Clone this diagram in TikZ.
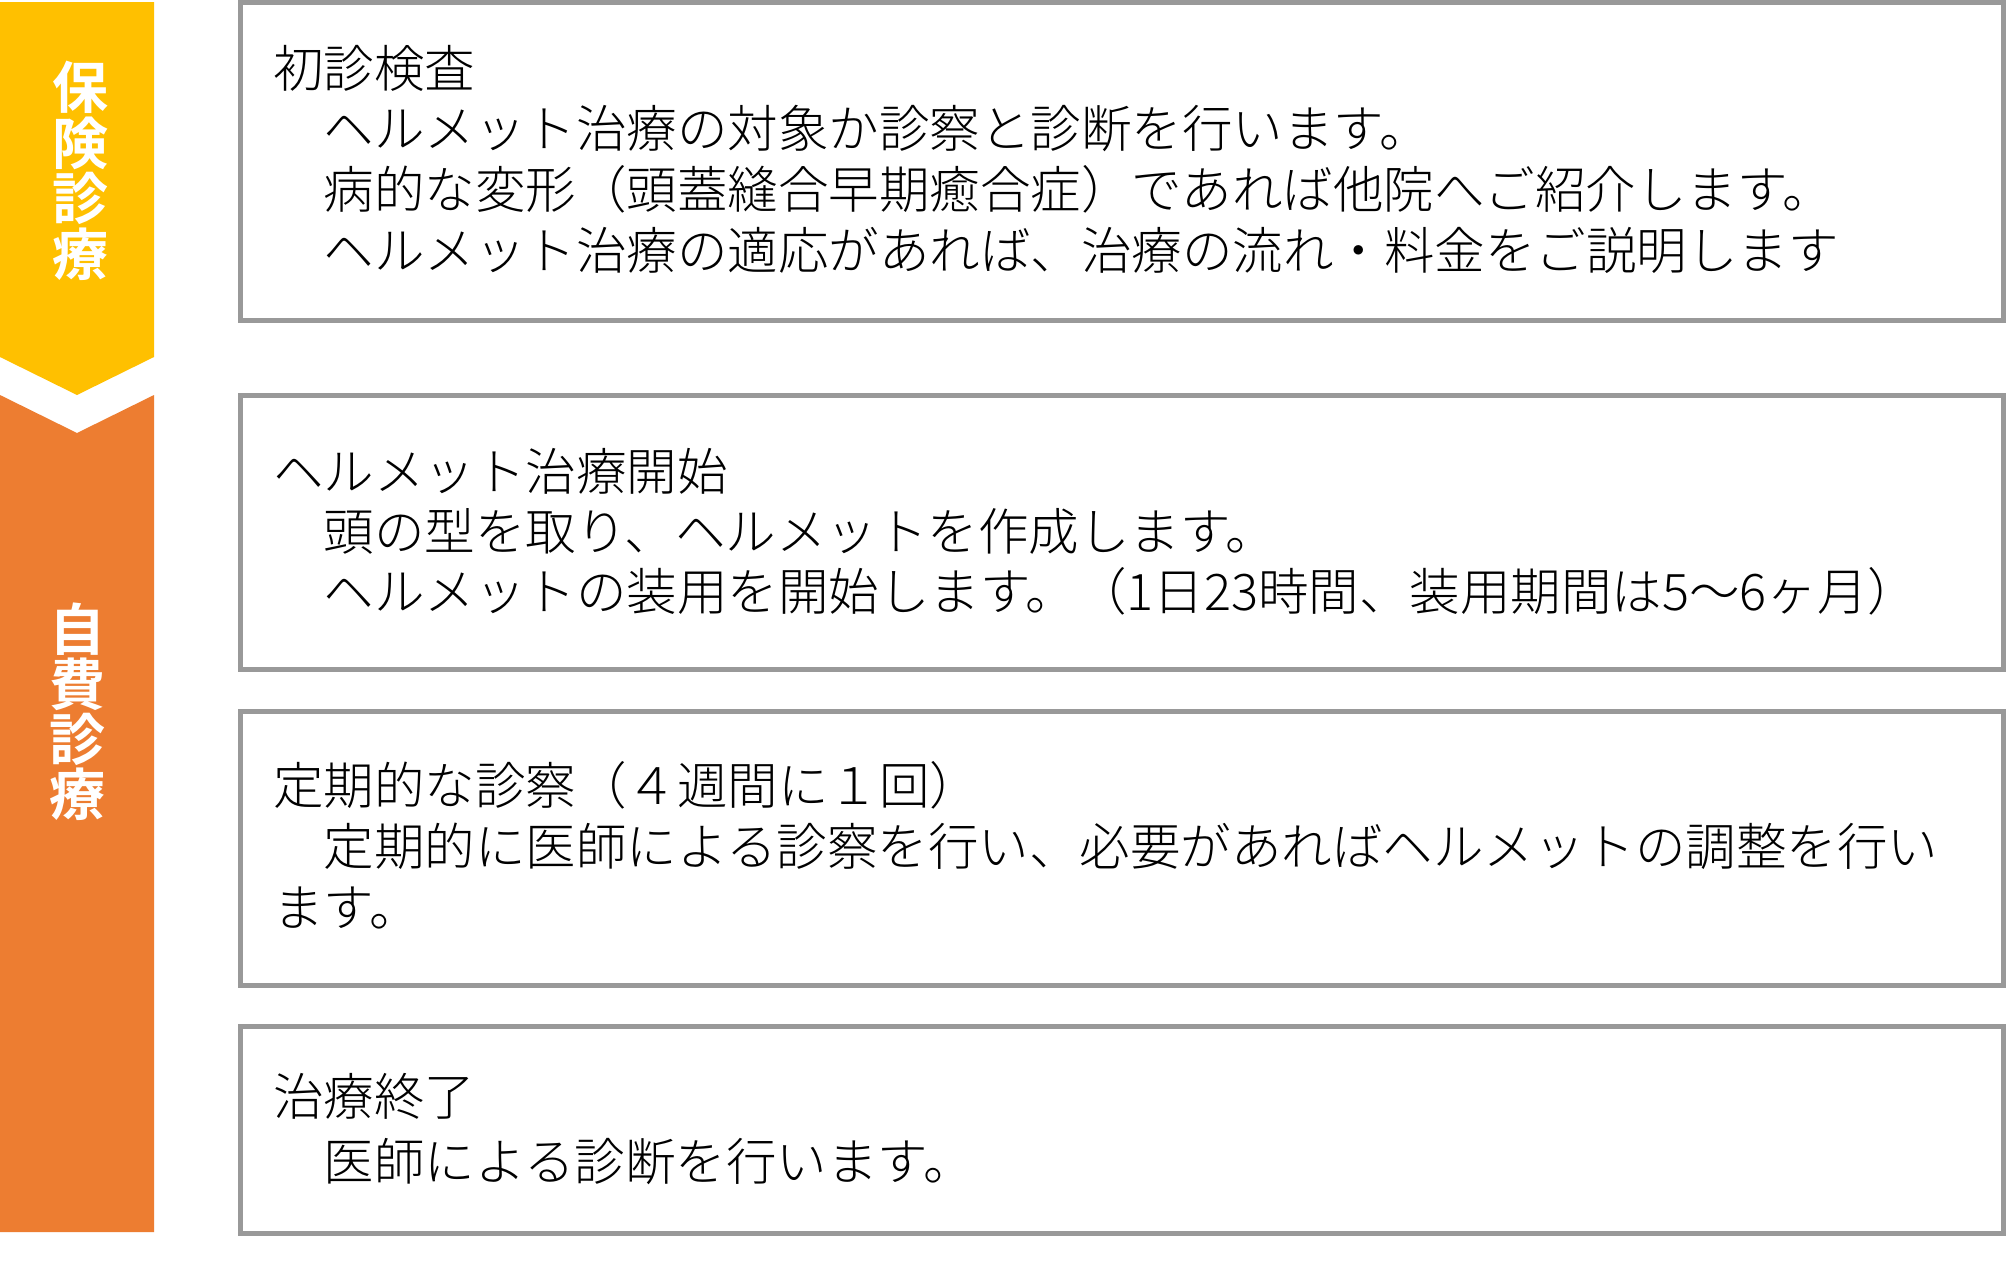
\documentclass[tikz,border=0pt]{standalone}
\usepackage{fontspec}
\newfontfamily\jp{Noto Sans CJK JP Light}
\newfontfamily\jpb{Noto Sans CJK JP Bold}
\definecolor{yel}{RGB}{255,192,0}
\definecolor{ora}{RGB}{237,125,49}
\definecolor{boxgray}{RGB}{153,153,153}
\tikzset{
  stepbox/.style={draw=boxgray, line width=5pt, fill=white, inner sep=0pt, outer sep=0pt, anchor=north west, minimum width=1763pt},
  ln/.style={anchor=base west, inner sep=0pt, text=black, font=\jp\fontsize{50.5}{60}\selectfont},
  bantext/.style={inner sep=0pt, text=white, align=center},
}
\begin{document}
\begin{tikzpicture}[x=1pt,y=-1pt]
\useasboundingbox (0,0) rectangle (2006,1286);
\fill[white] (0,0) rectangle (2006,1286);
% banners
\fill[yel] (0,2) -- (154,2) -- (154,357) -- (77,395) -- (0,357) -- cycle;
\fill[ora] (0,395) -- (77,433) -- (154,395) -- (154,1232) -- (0,1232) -- cycle;
\node[bantext, font=\jpb\fontsize{56}{55.5}\selectfont] (hoken) at (80,171) {保\\険\\診\\療};
\node[bantext, font=\jpb\fontsize{56}{55}\selectfont] (jihi) at (77,712) {自\\費\\診\\療};
% boxes
\node[stepbox, minimum height=317.5pt] (box1) at (240.5,2.5) {};
\node[stepbox, minimum height=273.5pt] (box2) at (240.5,395.5) {};
\node[stepbox, minimum height=274pt] (box3) at (240.5,711.5) {};
\node[stepbox, minimum height=207pt] (box4) at (240.5,1026.5) {};
% box 1 text
\node[ln] (t1a) at (273,87) {初診検査};
\node[ln] (t1b) at (273,147) {　ヘルメット治療の対象か診察と診断を行います。};
\node[ln] (t1c) at (273,208.5) {　病的な変形（頭蓋縫合早期癒合症）であれば他院へご紹介します。};
\node[ln] (t1d) at (273,269.5) {　ヘルメット治療の適応があれば、治療の流れ・料金をご説明します};
% box 2 text
\node[ln] (t2a) at (273,490) {ヘルメット治療開始};
\node[ln] (t2b) at (273,550) {　頭の型を取り、ヘルメットを作成します。};
\node[ln] (t2c) at (273,610) {　ヘルメットの装用を開始します。（1日23時間、装用期間は5～6ヶ月）};
% box 3 text
\node[ln] (t3a) at (273,804.5) {定期的な診察（４週間に１回）};
\node[ln] (t3b) at (273,865.5) {　定期的に医師による診察を行い、必要があればヘルメットの調整を行い};
\node[ln] (t3c) at (273,926.5) {ます。};
% box 4 text
\node[ln] (t4a) at (273,1115.5) {治療終了};
\node[ln] (t4b) at (273,1180) {　医師による診断を行います。};
\end{tikzpicture}
\end{document}
